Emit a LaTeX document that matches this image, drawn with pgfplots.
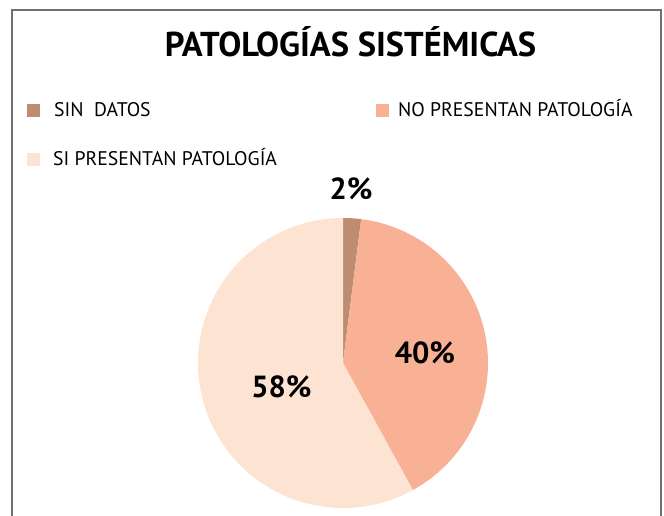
\documentclass[border=0pt]{standalone}
\usepackage{pgfplots}
\pgfplotsset{compat=1.18}
\usepackage{fontspec}
\setmainfont{PT Sans}
\definecolor{cA}{RGB}{190,140,112}
\definecolor{cB}{RGB}{249,177,150}
\definecolor{cC}{RGB}{253,228,210}
\definecolor{frm}{RGB}{112,112,112}
\begin{document}
\begin{tikzpicture}
% shares (percent)
\pgfmathsetmacro{\pA}{2}
\pgfmathsetmacro{\pB}{40}
\pgfmathsetmacro{\pC}{58}
\pgfmathsetmacro{\aZ}{90}
\pgfmathsetmacro{\aA}{90-3.6*\pA}
\pgfmathsetmacro{\aB}{\aA-3.6*\pB}
\pgfmathsetmacro{\aC}{\aB-3.6*\pC}
\begin{axis}[name=a, hide axis, scale only axis, width=664pt, height=515pt,
  xmin=0, xmax=664, ymin=0, ymax=515, clip=true]
\addplot[fill=cA, draw=none, domain=\aA:\aZ, samples=10] ({343+145*cos(x)},{152+145*sin(x)}) -- (343,152) -- cycle;
\addplot[fill=cB, draw=none, domain=\aB:\aA, samples=120] ({343+145*cos(x)},{152+145*sin(x)}) -- (343,152) -- cycle;
\addplot[fill=cC, draw=none, domain=\aC:\aB, samples=160] ({343+145*cos(x)},{152+145*sin(x)}) -- (343,152) -- cycle;
\draw[frm, line width=2pt] (12,-20) -- (12,505) -- (660.5,505) -- (660.5,-20);
% title
\node[anchor=base, inner sep=0, font=\fontsize{34.5}{38}\selectfont\bfseries] at (350.5,458) {PATOLOGÍAS SISTÉMICAS};
% legend
\fill[cA] (27,398) rectangle (40,411);
\node[anchor=base west, inner sep=0, font=\fontsize{19.7}{23}\selectfont] at (54,398) {SIN\ \ DATOS};
\fill[cB] (376,398) rectangle (389,411);
\node[anchor=base west, inner sep=0, font=\fontsize{19.7}{23}\selectfont] at (398,398) {NO PRESENTAN PATOLOGÍA};
\fill[cC] (27,349) rectangle (40,362);
\node[anchor=base west, inner sep=0, font=\fontsize{19.7}{23}\selectfont] at (53,349) {SI PRESENTAN PATOLOGÍA};
% labels
\node[anchor=base, inner sep=0, font=\fontsize{30.5}{34}\selectfont\bfseries] at (351,315) {2\%};
\node[anchor=base, inner sep=0, font=\fontsize{30.5}{34}\selectfont\bfseries] at (425,152) {40\%};
\node[anchor=base, inner sep=0, font=\fontsize{30.5}{34}\selectfont\bfseries] at (281.5,118) {58\%};
\end{axis}
\pgfresetboundingbox
\path[use as bounding box] (a.south west) rectangle (a.north east);
\end{tikzpicture}
\end{document}
